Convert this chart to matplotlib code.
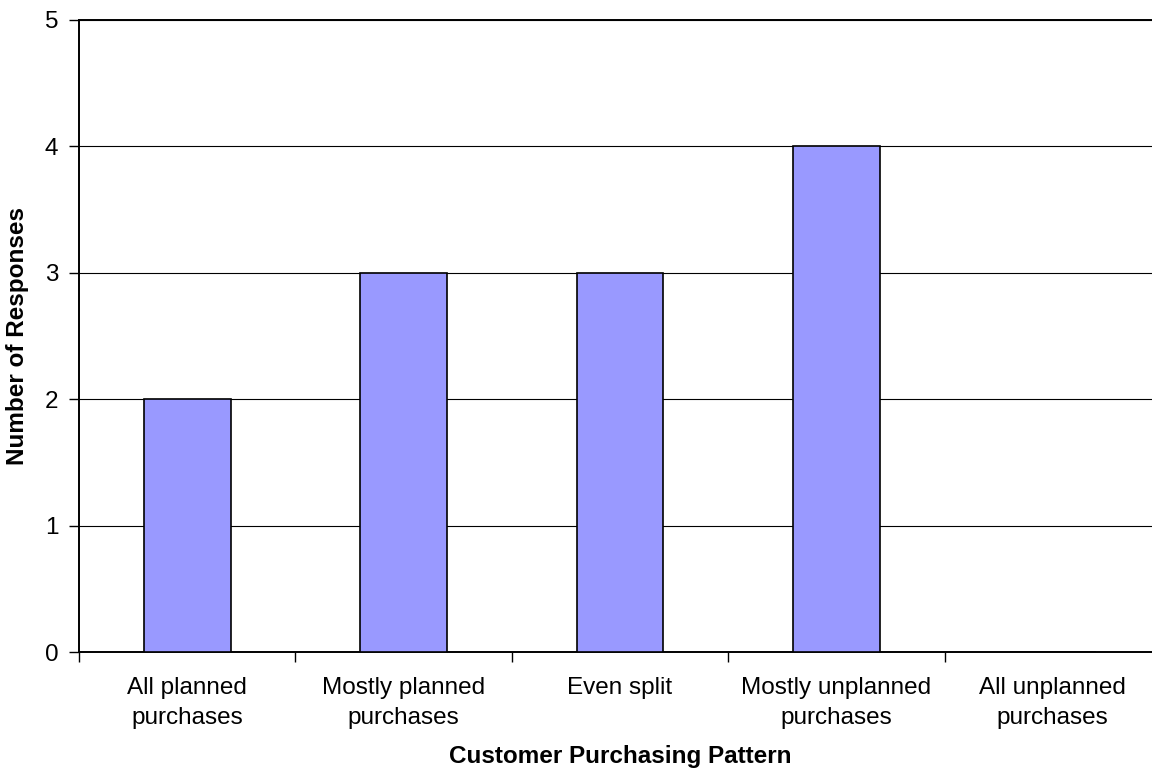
import matplotlib.pyplot as plt
import numpy as np

plt.rcParams['font.family'] = ['Liberation Sans', 'DejaVu Sans']

categories = ['All planned\npurchases', 'Mostly planned\npurchases', 'Even split',
              'Mostly unplanned\npurchases', 'All unplanned\npurchases']
responses = [2, 3, 3, 4, 0]

fig = plt.figure(figsize=(11.52, 7.72), dpi=100)
ax = fig.add_axes([0.0686, 0.1554, 0.9392, 0.8187])

x = np.arange(len(categories))
ax.bar(x, responses, width=0.4, color='#9999FF', edgecolor='black', linewidth=1.2, zorder=3)

ax.set_xlim(-0.5, len(categories) - 0.5)
ax.set_ylim(0, 5)
ax.set_yticks(range(0, 6))
ax.yaxis.grid(True, color='#000000', linewidth=0.8, zorder=0)

# category labels sit between the boundary ticks
ax.set_xticks(np.arange(-0.5, len(categories), 1.0))
ax.set_xticklabels([])
ax.set_xticks(x, minor=True)
ax.set_xticklabels(categories, minor=True, fontsize=17.5, linespacing=1.45)
ax.tick_params(axis='x', which='minor', length=0, pad=18)
ax.tick_params(axis='x', which='major', length=7, width=1, direction='out')
ax.tick_params(axis='y', length=7, width=1, labelsize=17.5, pad=8)

ax.spines['right'].set_visible(False)
for side in ['left', 'bottom', 'top']:
    ax.spines[side].set_linewidth(1.4)

ax.set_xlabel('Customer Purchasing Pattern', fontsize=17.5, fontweight='bold', labelpad=12)
ax.set_ylabel('Number of Responses', fontsize=17.5, fontweight='bold')
ax.yaxis.set_label_coords(-0.046, 0.5)

fig.savefig('out.png', dpi=100)
